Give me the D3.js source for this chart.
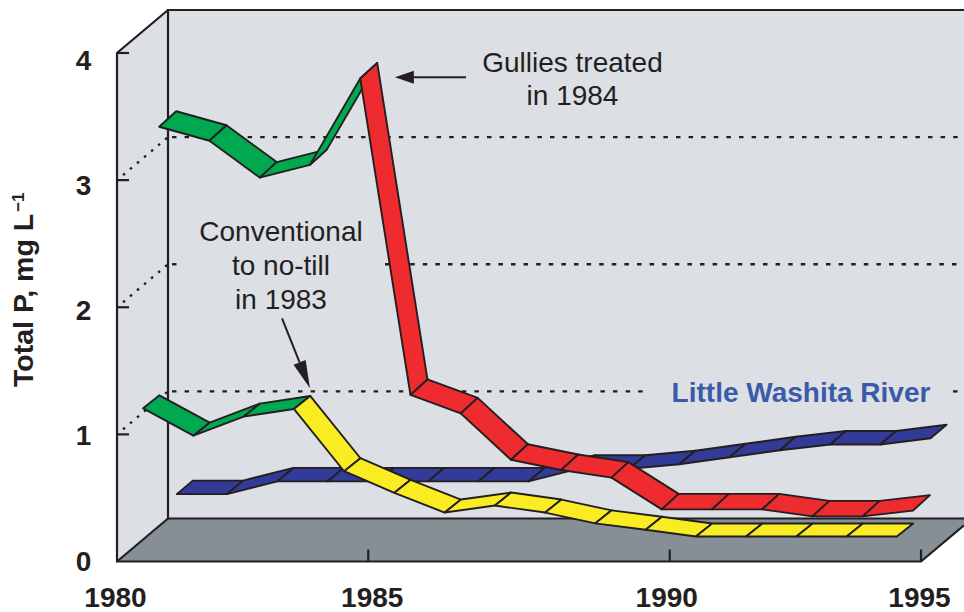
<!DOCTYPE html>
<html><head><meta charset="utf-8">
<script src="https://cdnjs.cloudflare.com/ajax/libs/d3/7.8.5/d3.min.js"></script>
<style>html,body{margin:0;padding:0;background:#fff}svg{display:block}text{font-family:"Liberation Sans",Arial,sans-serif;fill:#231f20}</style>
</head><body><svg id="c" width="964" height="612"></svg>
<script>
// ----- data -----
const yTicks = [0, 1, 2, 3, 4];
const gridValues = [1, 2, 3];
const xTickSteps = [0, 5, 11, 16];
const xTickLabels = ["1980", "1985", "1990", "1995"];
const xLabelNudge = [-1.5, 4, -3, -1.5];
const gulliesValues = [3.42, 3.31, 3.02, 3.12, 3.80, 1.31, 1.165, 0.80, 0.72, 0.66, 0.41, 0.41, 0.41, 0.355, 0.355, 0.40];
const conventionalValues = [1.205, 0.99, 1.14, 1.20, 0.71, 0.54, 0.385, 0.44, 0.385, 0.30, 0.25, 0.197, 0.197, 0.197, 0.197, 0.197];
const washitaValues = [0.53, 0.53, 0.63, 0.63, 0.63, 0.63, 0.63, 0.63, 0.73, 0.73, 0.765, 0.82, 0.875, 0.92, 0.92, 0.97];
const gulliesStart = 0.84, conventionalStart = 0.52, washitaStart = 1.19;
const gulliesSwitch = 4, conventionalSwitch = 3;

// ----- scales -----
const W = 964;
const x = d3.scaleLinear().domain([0, 16]).range([117, 921]);
const y = d3.scaleLinear().domain([0, 4]).range([561.5, 53]);
const yLabel = d3.scaleLinear().domain([0, 4]).range([561, 60]);
const depth = {dx: 51, dy: -43};
const ink = "#231f20";
const svg = d3.select("#c");

// ----- box -----
const x0 = x(0), x1 = x(16), yB = y(0), yT = y(4);
const poly = pts => pts.map(p => p.join(",")).join(" ");
svg.append("polygon").attr("points", poly([[x0, yT], [x0 + depth.dx, yT + depth.dy], [W, yT + depth.dy], [W, yB + depth.dy], [x1 + depth.dx, yB + depth.dy], [x0, yB]])).attr("fill", "#dcdfe4");
svg.append("polygon").attr("points", poly([[x0, yB], [x0 + depth.dx, yB + depth.dy], [W, yB + depth.dy], [W, yB + depth.dy + 6], [x1, yB]])).attr("fill", "#868e96");

// dotted grid
const gridG = svg.append("g").attr("stroke", ink).attr("fill", "none");
const gridSegments = {1: [[172, 650], [953, 958]], 2: [[172, 177], [385, 960]], 3: [[172, 960]]};
gridValues.forEach(v => {
  gridG.append("line").attr("x1", x0 + 6).attr("y1", y(v) - 5).attr("x2", x0 + depth.dx).attr("y2", y(v) + depth.dy)
    .attr("stroke-width", 2.4).attr("stroke-dasharray", "2.5 6.7");
  const gy = y(v) + depth.dy;
  gridSegments[v].forEach(s => gridG.append("line").attr("x1", s[0]).attr("x2", s[1]).attr("y1", gy).attr("y2", gy)
    .attr("stroke-width", 2.4).attr("stroke-dasharray", "4.5 8.1"));
});

// frame
const frame = svg.append("g").attr("stroke", ink).attr("fill", "none").attr("stroke-width", 2.2);
frame.append("path").attr("d", `M${W},${yT + depth.dy}H${x0 + depth.dx}V${yB + depth.dy}H${W}`);
frame.append("path").attr("d", `M${x0 + depth.dx},${yT + depth.dy}L${x0},${yT}V${yB}H${x1}L${W},${yB + (W - x1) * depth.dy / depth.dx}`);
frame.append("line").attr("x1", x0).attr("y1", yB).attr("x2", x0 + depth.dx).attr("y2", yB + depth.dy);
yTicks.filter(t => t > 0).forEach(t => frame.append("line").attr("x1", x0).attr("x2", x0 + 12).attr("y1", y(t)).attr("y2", y(t)));
xTickSteps.slice(1).forEach(s => frame.append("line").attr("x1", x(s)).attr("x2", x(s)).attr("y1", yB).attr("y2", yB - 12));

// ribbons
function drawRibbon(values, start, ribbon, colorAt) {
  const g = svg.append("g").attr("stroke", ink).attr("stroke-width", 1.9).attr("stroke-linejoin", "round");
  const F = values.map((v, i) => [x(start + i), y(v)]);
  const B = F.map(p => [p[0] + ribbon.dx, p[1] + ribbon.dy]);
  d3.range(values.length - 1).forEach(i => {
    g.append("polygon").attr("points", poly([F[i], F[i + 1], B[i + 1], B[i]])).attr("fill", colorAt(i));
  });
}
const GREEN = "#00a94f", RED = "#ee2b2f", YELLOW = "#f9ec23", BLUE = "#323b97";
drawRibbon(washitaValues, washitaStart, {dx: 16, dy: -13.5}, () => BLUE);
drawRibbon(gulliesValues, gulliesStart, {dx: 17, dy: -15.5}, i => i < gulliesSwitch ? GREEN : RED);
drawRibbon(conventionalValues, conventionalStart, {dx: 16.3, dy: -13}, i => i < conventionalSwitch ? GREEN : YELLOW);

// arrows
function arrow(a, b, len, half) {
  const ax = x(a[0]), ay = y(a[1]), bx = x(b[0]), by = y(b[1]);
  const L = Math.hypot(bx - ax, by - ay), ux = (bx - ax) / L, uy = (by - ay) / L;
  const bsx = bx - ux * len, bsy = by - uy * len;
  svg.append("line").attr("x1", ax).attr("y1", ay).attr("x2", bsx).attr("y2", bsy).attr("stroke", ink).attr("stroke-width", 2);
  svg.append("polygon").attr("fill", ink).attr("points", poly([[bx, by], [bsx - uy * half, bsy + ux * half], [bsx + uy * half, bsy - ux * half]]));
}
arrow([6.945, 3.81], [5.53, 3.81], 19, 6.5);
arrow([3.284, 1.913], [3.84, 1.362], 28, 6.5);

// text
const label = (t, px, py, opts = {}) => svg.append("text").attr("x", px).attr("y", py)
  .attr("text-anchor", opts.anchor || "middle").attr("font-size", opts.size || 28)
  .attr("font-weight", opts.weight || "normal").style("fill", opts.fill || ink).text(t);
yTicks.forEach(t => label(String(t), 83.5, yLabel(t) + 9.5, {weight: "bold"}));
xTickSteps.forEach((s, i) => label(xTickLabels[i], x(s) + xLabelNudge[i], 606.5, {weight: "bold"}));
label("Gullies treated", 572.5, 71.5);
label("in 1984", 572.5, 105);
label("Conventional", 281, 240.5);
label("to no-till", 281, 275);
label("in 1983", 281, 309);
label("Little Washita River", 801, 401.5, {weight: "bold", fill: "#3a5ba9"});
const yt = svg.append("text").attr("transform", "translate(33,387) rotate(-90)").attr("text-anchor", "start")
  .attr("font-size", 28.5).attr("font-weight", "bold");
yt.append("tspan").text("Total P, mg L");
yt.append("tspan").attr("font-size", 17).attr("dy", -9).attr("dx", 2).text("−1");
</script></body></html>
